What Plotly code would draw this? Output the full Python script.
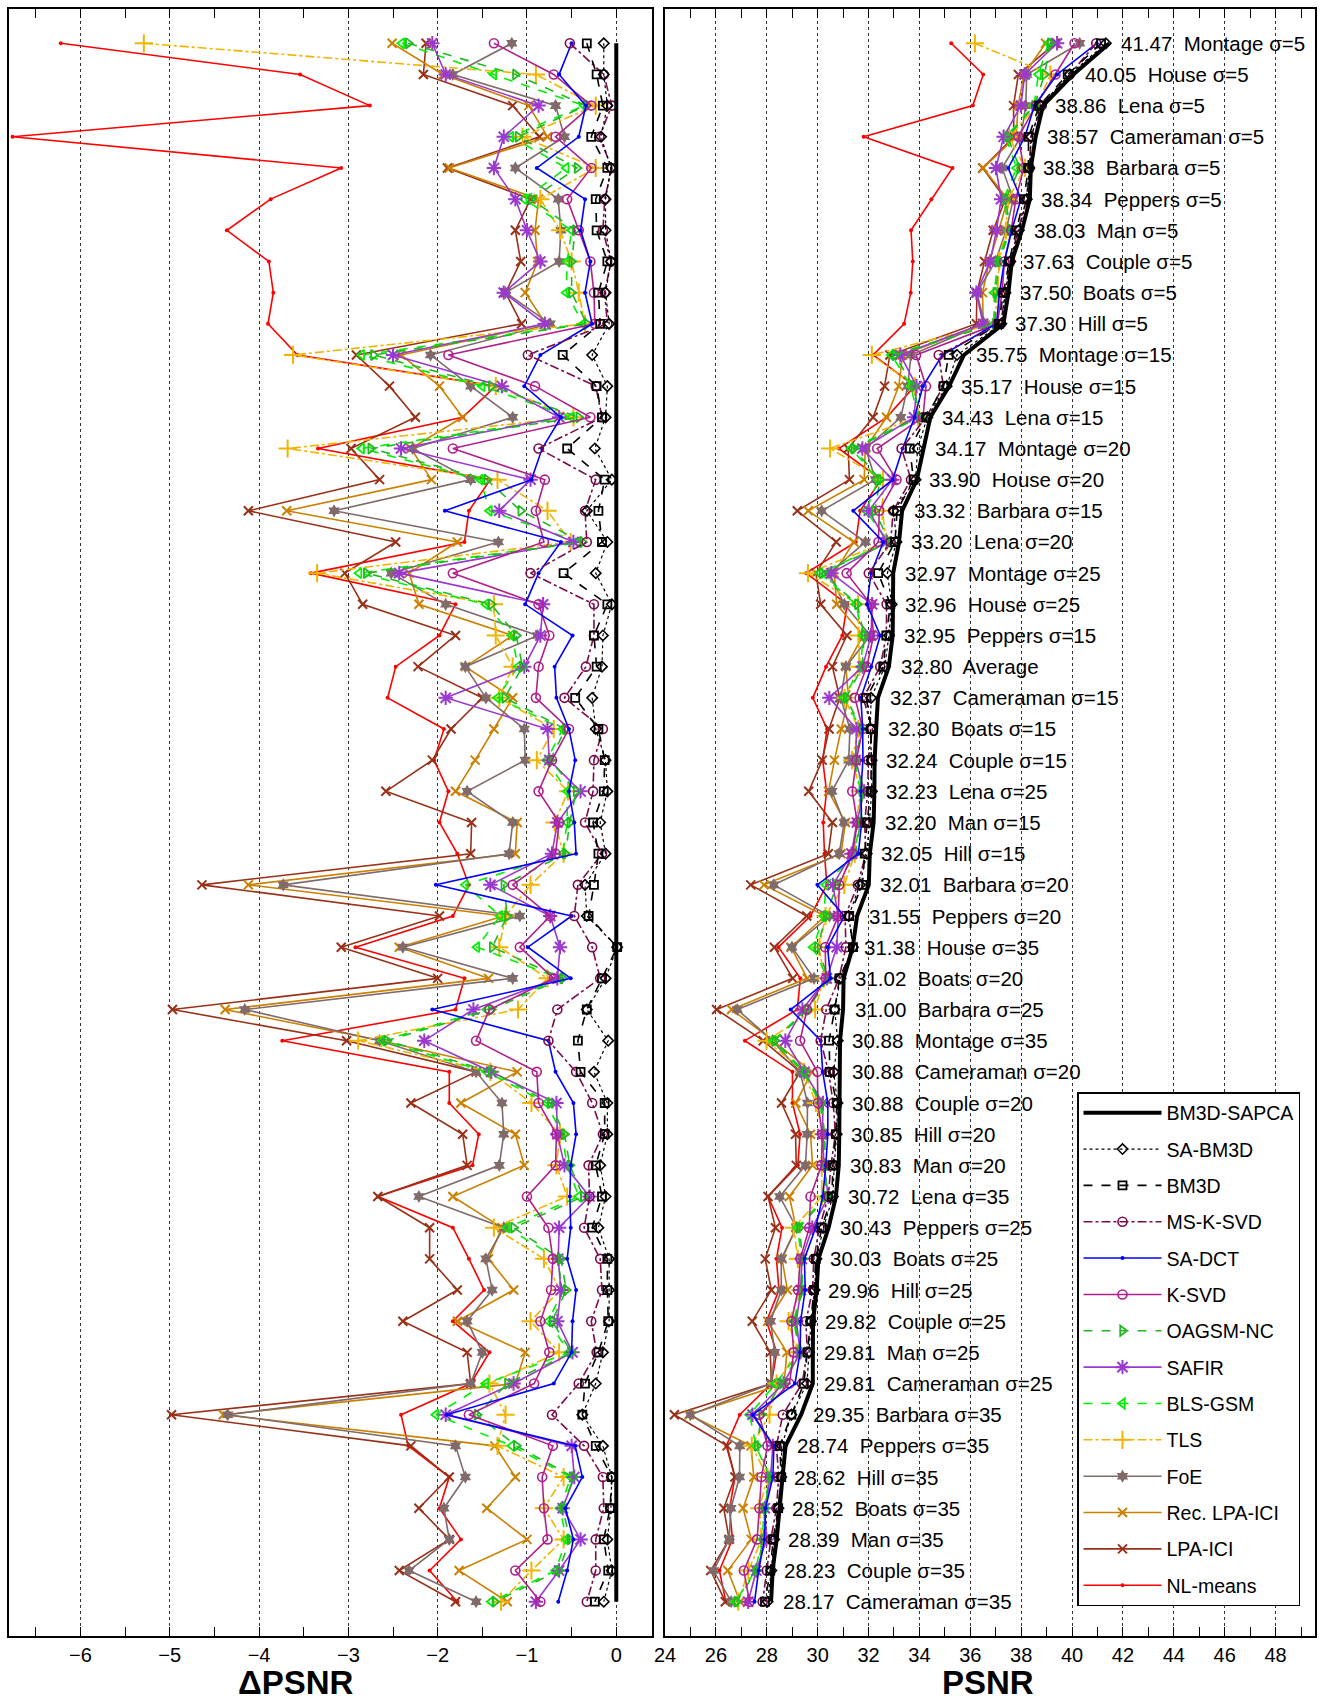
import plotly.graph_objects as go

# ---------------- data ----------------
labels = ["Montage σ=5", "House σ=5", "Lena σ=5", "Cameraman σ=5", "Barbara σ=5", "Peppers σ=5",
          "Man σ=5", "Couple σ=5", "Boats σ=5", "Hill σ=5", "Montage σ=15", "House σ=15",
          "Lena σ=15", "Montage σ=20", "House σ=20", "Barbara σ=15", "Lena σ=20", "Montage σ=25",
          "House σ=25", "Peppers σ=15", "Average", "Cameraman σ=15", "Boats σ=15", "Couple σ=15",
          "Lena σ=25", "Man σ=15", "Hill σ=15", "Barbara σ=20", "Peppers σ=20", "House σ=35",
          "Boats σ=20", "Barbara σ=25", "Montage σ=35", "Cameraman σ=20", "Couple σ=20", "Hill σ=20",
          "Man σ=20", "Lena σ=35", "Peppers σ=25", "Boats σ=25", "Hill σ=25", "Couple σ=25",
          "Man σ=25", "Cameraman σ=25", "Barbara σ=35", "Peppers σ=35", "Hill σ=35", "Boats σ=35",
          "Man σ=35", "Couple σ=35", "Cameraman σ=35"]

bm3d_sapca = [41.47, 40.05, 38.86, 38.57, 38.38, 38.34, 38.03, 37.63, 37.50, 37.30, 35.75, 35.17,
              34.43, 34.17, 33.90, 33.32, 33.20, 32.97, 32.96, 32.95, 32.80, 32.37, 32.30, 32.24,
              32.23, 32.20, 32.05, 32.01, 31.55, 31.38, 31.02, 31.00, 30.88, 30.88, 30.88, 30.85,
              30.83, 30.72, 30.43, 30.03, 29.96, 29.82, 29.81, 29.81, 29.35, 28.74, 28.62, 28.52,
              28.39, 28.23, 28.17]

# Delta PSNR w.r.t. BM3D-SAPCA
d_sa_bm3d = [-0.14, -0.14, -0.10, -0.17, -0.06, -0.12, -0.12, -0.06, -0.12, -0.08, -0.27, -0.10,
             -0.12, -0.24, -0.05, -0.33, -0.10, -0.23, -0.05, -0.15, -0.16, -0.27, -0.23, -0.12,
             -0.10, -0.18, -0.12, -0.35, -0.33, 0.01, -0.12, -0.33, -0.09, -0.25, -0.10, -0.10,
             -0.18, -0.12, -0.20, -0.08, -0.08, -0.08, -0.15, -0.23, -0.38, -0.15, -0.05, -0.06,
             -0.10, -0.05, -0.14]
d_bm3d = [-0.33, -0.22, -0.15, -0.28, -0.10, -0.23, -0.22, -0.10, -0.20, -0.18, -0.60, -0.22,
          -0.16, -0.55, -0.13, -0.20, -0.16, -0.59, -0.10, -0.25, -0.22, -0.46, -0.20, -0.13,
          -0.14, -0.26, -0.20, -0.25, -0.31, 0.01, -0.16, -0.33, -0.43, -0.40, -0.13, -0.13,
          -0.23, -0.16, -0.27, -0.10, -0.10, -0.09, -0.20, -0.35, -0.38, -0.23, -0.05, -0.07,
          -0.14, -0.09, -0.24]
d_ms_ksvd = [-0.52, -0.14, -0.05, -0.19, -0.05, -0.13, -0.15, -0.06, -0.13, -0.10, -0.99, -0.23,
             -0.16, -0.87, -0.23, -0.35, -0.33, -0.96, -0.25, -0.25, -0.34, -0.58, -0.15, -0.25,
             -0.26, -0.35, -0.16, -0.43, -0.47, -0.27, -0.18, -0.66, -0.76, -0.45, -0.27, -0.15,
             -0.31, -0.30, -0.36, -0.18, -0.16, -0.28, -0.22, -0.42, -0.72, -0.36, -0.15, -0.14,
             -0.23, -0.23, -0.33]
d_sa_dct = [-0.50, -0.64, -0.34, -0.42, -0.89, -0.35, -0.40, -0.29, -0.35, -0.27, -0.85, -1.03,
            -0.62, -0.83, -0.95, -1.92, -0.62, -0.87, -1.02, -0.49, -0.69, -0.67, -0.53, -0.46,
            -0.53, -0.47, -0.45, -2.02, -0.50, -0.99, -0.51, -2.06, -0.76, -0.68, -0.48, -0.45,
            -0.51, -0.52, -0.51, -0.55, -0.45, -0.49, -0.50, -0.70, -1.90, -0.46, -0.38, -0.57,
            -0.48, -0.55, -0.65]
d_ksvd = [-1.37, -0.70, -0.28, -0.68, -0.28, -0.55, -0.42, -0.29, -0.25, -0.24, -1.88, -0.91,
          -0.29, -1.83, -0.80, -0.90, -0.81, -1.83, -0.87, -0.75, -0.87, -0.90, -0.53, -0.72,
          -0.87, -0.64, -0.68, -1.16, -0.74, -1.08, -0.70, -1.42, -1.57, -0.89, -0.87, -0.67,
          -0.68, -1.00, -0.76, -0.71, -0.73, -0.85, -0.75, -0.92, -1.65, -0.71, -0.83, -0.81,
          -0.77, -1.13, -0.85]
d_oagsm = [-2.33, -1.13, -0.34, -1.10, -0.44, -0.95, -0.46, -0.50, -0.50, -0.33, -2.72, -1.40,
           -0.42, -2.75, -1.45, -1.07, -0.38, -2.80, -1.40, -1.12, -1.05, -1.25, -0.57, -0.74,
           -0.45, -0.52, -0.57, -1.26, -1.22, -1.39, -0.60, -1.40, -2.57, -1.40, -0.74, -0.58,
           -0.52, -0.37, -1.15, -0.62, -0.56, -0.72, -0.50, -1.22, -1.56, -1.12, -0.48, -0.60,
           -0.52, -0.64, -1.36]
d_safir = [-2.06, -1.91, -0.87, -1.26, -1.37, -1.13, -1.00, -0.85, -1.26, -0.80, -2.50, -1.28,
           -0.64, -2.41, -0.96, -1.31, -0.48, -2.43, -0.82, -0.85, -1.03, -1.91, -0.77, -0.75,
           -0.40, -0.66, -0.72, -1.41, -0.74, -0.63, -0.66, -1.60, -2.15, -1.40, -0.67, -0.66,
           -0.58, -0.30, -0.64, -0.65, -0.62, -0.66, -0.49, -1.15, -1.91, -0.50, -0.47, -0.60,
           -0.40, -0.64, -0.90]
d_bls_gsm = [-2.40, -1.37, -0.36, -1.18, -0.56, -1.03, -0.50, -0.55, -0.56, -0.37, -2.85, -1.50,
             -0.50, -2.85, -1.52, -1.42, -0.42, -2.88, -1.46, -1.17, -1.10, -1.33, -0.60, -0.78,
             -0.55, -0.55, -0.60, -1.69, -1.30, -1.56, -0.63, -1.45, -2.62, -1.45, -0.78, -0.61,
             -0.55, -0.42, -1.22, -0.66, -0.60, -0.76, -0.53, -1.46, -2.02, -1.17, -0.51, -0.63,
             -0.56, -0.68, -1.40]
d_tls = [-5.29, -0.90, -0.23, -1.05, -0.23, -0.85, -0.63, -0.50, -0.42, -0.35, -3.62, -1.35,
         -0.48, -3.68, -1.33, -0.77, -0.51, -3.35, -1.37, -1.35, -1.16, -1.31, -0.70, -0.89,
         -0.54, -0.69, -0.59, -0.96, -1.24, -1.31, -0.77, -1.10, -2.89, -1.41, -0.95, -0.63,
         -0.67, -0.55, -1.37, -0.81, -0.63, -0.96, -0.64, -1.42, -1.24, -1.33, -0.59, -0.81,
         -0.59, -0.95, -1.29]
d_foe = [-1.17, -1.83, -0.68, -0.58, -1.13, -0.65, -0.62, -0.64, -1.24, -0.74, -2.08, -1.63,
         -1.16, -2.28, -1.63, -3.16, -1.32, -2.52, -1.91, -0.88, -1.69, -1.46, -1.03, -1.02,
         -1.67, -1.16, -1.20, -3.73, -1.08, -2.39, -1.16, -4.16, -2.65, -1.57, -1.28, -1.26,
         -1.31, -2.21, -1.26, -1.46, -1.39, -1.67, -1.50, -1.63, -4.35, -1.80, -1.69, -1.93,
         -1.87, -2.32, -1.57]
d_rec_lpa = [-2.51, -1.94, -0.98, -0.77, -1.87, -0.87, -0.91, -0.88, -1.02, -0.79, -2.41, -1.98,
             -1.72, -2.30, -2.07, -3.69, -1.78, -2.32, -2.21, -1.16, -1.69, -1.16, -1.37, -1.58,
             -1.80, -1.11, -1.13, -4.12, -1.26, -2.43, -1.43, -4.38, -2.63, -1.11, -1.74, -1.13,
             -1.03, -1.83, -1.28, -1.43, -1.15, -1.78, -1.02, -1.13, -4.40, -1.36, -1.13, -1.45,
             -1.00, -1.76, -1.22]
d_lpa = [-2.13, -2.16, -1.16, -0.86, -1.89, -0.96, -1.13, -1.07, -1.24, -1.06, -2.91, -2.54,
         -2.25, -2.97, -2.65, -4.12, -2.47, -3.04, -2.84, -1.80, -2.22, -1.50, -1.85, -2.06,
         -2.58, -1.62, -1.63, -4.64, -1.98, -3.08, -2.00, -4.97, -3.02, -1.57, -2.30, -1.72,
         -1.67, -2.67, -2.09, -2.09, -1.78, -2.39, -1.67, -1.63, -4.98, -2.30, -1.87, -2.21,
         -1.87, -2.43, -1.80]
d_nlmeans = [-6.22, -3.54, -2.76, -6.76, -3.08, -3.87, -4.36, -3.89, -3.84, -3.90, -3.57, -1.35,
             -1.72, -3.34, -1.41, -1.65, -1.70, -3.42, -1.80, -1.98, -2.47, -2.56, -1.93, -2.04,
             -1.88, -1.98, -1.78, -1.65, -1.83, -2.92, -1.70, -1.80, -3.74, -1.87, -1.87, -1.54,
             -1.61, -2.67, -1.83, -1.65, -1.48, -1.83, -1.42, -1.63, -2.41, -2.33, -1.87, -1.98,
             -1.74, -2.09, -1.78]

left_ticks = [-6, -5, -4, -3, -2, -1, 0]
right_ticks = [24, 26, 28, 30, 32, 34, 36, 38, 40, 42, 44, 46, 48]

# ---------------- styles / layout ----------------
FONT = "Liberation Sans, Arial, sans-serif"
LABEL_DX = 0.38                 # gap between curve and row label (PSNR units)

methods = [
    ("BM3D-SAPCA", [0.0] * len(bm3d_sapca), dict(color="black", width=4, dash="solid"), None),
    ("SA-BM3D", d_sa_bm3d, dict(color="black", width=1.2, dash="dot"),
     dict(symbol="diamond-open", size=8, line=dict(width=1.6, color="black"))),
    ("BM3D", d_bm3d, dict(color="black", width=1.6, dash="dash"),
     dict(symbol="square-open", size=8, line=dict(width=1.8, color="black"))),
    ("MS-K-SVD", d_ms_ksvd, dict(color="#7a0c4c", width=1.6, dash="dashdot"),
     dict(symbol="circle-open", size=9, line=dict(width=1.6, color="#7a0c4c"))),
    ("SA-DCT", d_sa_dct, dict(color="#0000ff", width=1.6, dash="solid"),
     dict(symbol="circle", size=4, color="#0000ff")),
    ("K-SVD", d_ksvd, dict(color="#b0208c", width=1.6, dash="solid"),
     dict(symbol="circle-open", size=9, line=dict(width=1.6, color="#b0208c"))),
    ("OAGSM-NC", d_oagsm, dict(color="#22b822", width=1.6, dash="dash"),
     dict(symbol="triangle-right-open", size=9, line=dict(width=1.8, color="#22b822"))),
    ("SAFIR", d_safir, dict(color="#9a38d0", width=1.6, dash="solid"),
     dict(symbol="asterisk-open", size=12, line=dict(width=2, color="#9a38d0"))),
    ("BLS-GSM", d_bls_gsm, dict(color="#00f000", width=1.6, dash="dash"),
     dict(symbol="triangle-left-open", size=9, line=dict(width=1.8, color="#00f000"))),
    ("TLS", d_tls, dict(color="#f2b400", width=1.6, dash="dashdot"),
     dict(symbol="cross-thin-open", size=13, line=dict(width=2, color="#f2b400"))),
    ("FoE", d_foe, dict(color="#806a6a", width=1.6, dash="solid"),
     dict(symbol="hexagram", size=10, color="#806a6a")),
    ("Rec. LPA-ICI", d_rec_lpa, dict(color="#cc8000", width=1.6, dash="solid"),
     dict(symbol="x-thin-open", size=9, line=dict(width=2, color="#cc8000"))),
    ("LPA-ICI", d_lpa, dict(color="#993018", width=1.6, dash="solid"),
     dict(symbol="x-thin-open", size=9, line=dict(width=2, color="#993018"))),
    ("NL-means", d_nlmeans, dict(color="#ff0000", width=1.6, dash="solid"),
     dict(symbol="circle", size=4, color="#ff0000")),
]

rows = list(range(1, len(labels) + 1))
fig = go.Figure()

for rank, (name, d, line, marker) in reversed(list(enumerate(methods))):
    mode = "lines" if marker is None else "lines+markers"
    kw = {} if marker is None else dict(marker=marker)
    fig.add_trace(go.Scatter(x=d, y=rows, mode=mode, line=line, name=name,
                             showlegend=False, xaxis="x", yaxis="y", hoverinfo="skip", **kw))
    psnr = [round(b + v, 3) for b, v in zip(bm3d_sapca, d)]
    fig.add_trace(go.Scatter(x=psnr, y=rows, mode=mode, line=line, name=name,
                             showlegend=True, legendgroup=name, legendrank=rank + 1,
                             xaxis="x2", yaxis="y2", hoverinfo="skip", **kw))

# row labels on the right panel
for r, b, lab in zip(rows, bm3d_sapca, labels):
    fig.add_annotation(x=b + LABEL_DX, y=r, xref="x2", yref="y2", text=f"{b:.2f}  {lab}",
                       showarrow=False, xanchor="left", yanchor="middle",
                       font=dict(family=FONT, size=20.5, color="black"))

W, H = 1322, 1704
# axis titles
fig.add_annotation(x=296 / W, y=1 - 1682 / H, xref="paper", yref="paper", text="ΔPSNR",
                   showarrow=False, xanchor="center", yanchor="middle",
                   font=dict(family=FONT, size=33, color="black", weight="bold"))
fig.add_annotation(x=988 / W, y=1 - 1682 / H, xref="paper", yref="paper", text="PSNR",
                   showarrow=False, xanchor="center", yanchor="middle",
                   font=dict(family=FONT, size=33, color="black", weight="bold"))

ydom = [1 - 1636 / H, 1 - 9 / H]
common_x = dict(showline=True, linecolor="black", linewidth=1.5, mirror="ticks",
                ticks="inside", ticklen=9, tickwidth=1.3, tickcolor="black",
                showgrid=True, gridcolor="#333333", griddash="dot", gridwidth=1,
                zeroline=False, automargin=False,
                tickfont=dict(family=FONT, size=20, color="black"))
common_y = dict(showline=True, linecolor="black", linewidth=1.5, mirror=True,
                showticklabels=False, ticks="", showgrid=False, zeroline=False,
                automargin=False, range=[52.1, -0.1])

fig.update_layout(
    width=W, height=H, margin=dict(l=0, r=0, t=0, b=0, autoexpand=False),
    paper_bgcolor="white", plot_bgcolor="white",
    xaxis=dict(domain=[9 / W, 652 / W], range=[-6.8, 0.4], tickvals=left_ticks,
               minor=dict(dtick=0.5, tick0=0, ticks="inside", ticklen=9, tickcolor="black", showgrid=False),
               anchor="y", **common_x),
    yaxis=dict(domain=ydom, anchor="x", **common_y),
    xaxis2=dict(domain=[665 / W, 1315 / W], range=[24, 49.55], tickvals=right_ticks,
                minor=dict(dtick=1, tick0=0, ticks="inside", ticklen=9, tickcolor="black", showgrid=False),
                anchor="y2", **common_x),
    yaxis2=dict(domain=ydom, anchor="x2", **common_y),
    legend=dict(x=1300 / W, y=1 - 1606 / H, xanchor="right", yanchor="bottom",
                bgcolor="white", bordercolor="black", borderwidth=1.5,
                font=dict(family=FONT, size=19.5, color="black"),
                traceorder="grouped", tracegroupgap=8, itemwidth=78),
)

fig.write_html("out.html", config={"displayModeBar": False},
               post_script="document.body.style.margin='0';")
